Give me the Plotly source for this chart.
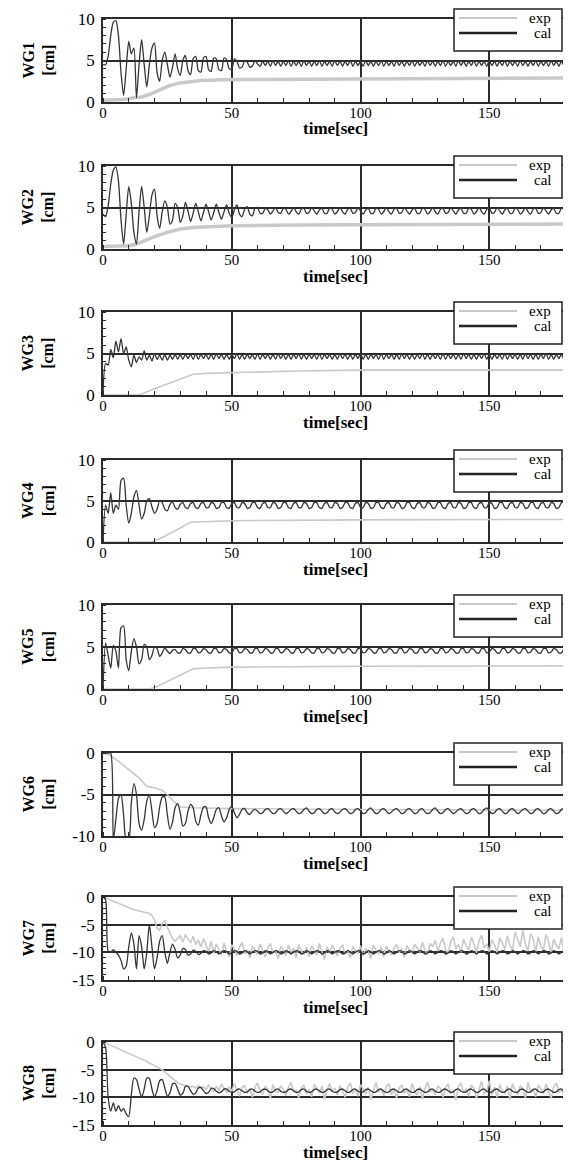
import plotly.graph_objects as go

# ---------------- data ----------------
# Time step of calculated / noisy series: 1 s (index = time in seconds)

WG1_EXP_T = [0, 8, 12, 15, 18, 22, 26, 30, 34, 38, 50, 75, 100, 150, 180]
WG1_EXP = [0.2, 0.3, 0.5, 0.6, 0.9, 1.5, 2.0, 2.3, 2.5, 2.6, 2.7, 2.75, 2.8, 2.85, 2.9]
WG1_CAL = [
    4.5, 4.5, 5.5, 8.0, 9.6, 9.8, 8.0, 3.5, 0.8, 4.0,
    7.3, 5.8, 6.5, 0.5, 4.5, 7.5, 4.5, 1.8, 4.5, 6.5,
    7.1, 3.5, 2.5, 5.0, 6.0, 4.5, 3.0, 4.2, 5.8, 4.0,
    3.2, 5.0, 5.6, 3.8, 3.3, 5.2, 5.5, 3.8, 3.6, 5.3,
    5.5, 3.9, 3.7, 5.3, 5.2, 3.9, 3.8, 5.3, 5.1, 4.0,
    4.0, 5.2, 4.9, 4.1, 4.2, 5.0, 4.8, 4.2, 4.3, 5.0,
    4.6, 4.3, 4.9, 4.4, 4.9, 4.3, 5.0, 4.4, 4.9, 4.3,
    4.9, 4.4, 5.0, 4.3, 4.9, 4.4, 4.9, 4.3, 5.0, 4.4,
    4.9, 4.3, 4.9, 4.4, 5.0, 4.3, 4.9, 4.4, 4.9, 4.3,
    5.0, 4.4, 4.9, 4.3, 4.9, 4.4, 5.0, 4.3, 4.9, 4.4,
    4.9, 4.3, 5.0, 4.4, 4.9, 4.3, 4.9, 4.4, 5.0, 4.3,
    4.9, 4.4, 4.9, 4.3, 5.0, 4.4, 4.9, 4.3, 4.9, 4.4,
    5.0, 4.3, 4.9, 4.4, 4.9, 4.3, 5.0, 4.4, 4.9, 4.3,
    4.9, 4.4, 5.0, 4.3, 4.9, 4.4, 4.9, 4.3, 5.0, 4.4,
    4.9, 4.3, 4.9, 4.4, 5.0, 4.3, 4.9, 4.4, 4.9, 4.3,
    5.0, 4.4, 4.9, 4.3, 4.9, 4.4, 5.0, 4.3, 4.9, 4.4,
    4.9, 4.3, 5.0, 4.4, 4.9, 4.3, 4.9, 4.4, 5.0, 4.3,
    4.9, 4.4, 4.9, 4.3, 5.0, 4.4, 4.9, 4.3, 4.9, 4.4,
    4.8,
]

WG2_EXP_T = [0, 5, 10, 13, 16, 20, 25, 30, 35, 40, 50, 75, 100, 150, 180]
WG2_EXP = [0.3, 0.3, 0.4, 0.6, 1.0, 1.5, 2.0, 2.4, 2.6, 2.7, 2.8, 2.9, 2.9, 3.0, 3.0]
WG2_CAL = [
    4.2, 3.9, 5.2, 7.8, 9.5, 9.9, 8.2, 3.5, 0.6, 4.2,
    7.5, 5.5, 2.0, 0.6, 4.5, 7.5, 5.0, 2.0, 4.0, 6.5,
    7.2, 4.0, 2.5, 4.5, 5.8, 5.0, 3.0, 3.5, 5.5, 5.0,
    3.2, 4.0, 5.6, 4.6, 3.3, 4.3, 5.5, 4.5, 3.4, 4.4,
    5.4, 4.5, 3.5, 4.4, 5.4, 4.4, 3.6, 4.5, 5.3, 4.3,
    3.8, 4.7, 5.3, 4.2, 3.9, 4.8, 5.1, 4.2, 4.0, 4.9,
    5.0, 4.3, 4.3, 4.9, 4.7, 4.2, 4.6, 5.0, 4.4, 4.3,
    4.9, 4.8, 4.2, 4.5, 5.0, 4.5, 4.2, 4.8, 4.9, 4.3,
    4.4, 5.0, 4.6, 4.2, 4.7, 4.9, 4.3, 4.3, 4.9, 4.8,
    4.2, 4.5, 5.0, 4.5, 4.2, 4.8, 4.9, 4.3, 4.4, 5.0,
    4.6, 4.2, 4.7, 4.9, 4.3, 4.3, 4.9, 4.8, 4.2, 4.5,
    5.0, 4.5, 4.2, 4.8, 4.9, 4.3, 4.4, 5.0, 4.6, 4.2,
    4.7, 4.9, 4.3, 4.3, 4.9, 4.8, 4.2, 4.5, 5.0, 4.5,
    4.2, 4.8, 4.9, 4.3, 4.4, 5.0, 4.6, 4.2, 4.7, 4.9,
    4.3, 4.3, 4.9, 4.8, 4.2, 4.5, 5.0, 4.5, 4.2, 4.8,
    4.9, 4.3, 4.4, 5.0, 4.6, 4.2, 4.7, 4.9, 4.3, 4.3,
    4.9, 4.8, 4.2, 4.5, 5.0, 4.5, 4.2, 4.8, 4.9, 4.3,
    4.4, 5.0, 4.6, 4.2, 4.7, 4.9, 4.3, 4.3, 4.9, 4.8,
    4.5,
]

WG3_EXP_T = [0, 14, 18, 25, 30, 35, 40, 50, 75, 100, 150, 180]
WG3_EXP = [0.0, 0.0, 0.5, 1.3, 1.9, 2.5, 2.6, 2.7, 2.9, 3.0, 3.0, 3.0]
WG3_CAL = [
    0.0, 3.8, 3.6, 5.5, 4.5, 6.5, 5.2, 6.8, 5.0, 5.8,
    4.2, 3.4, 4.8, 3.9, 4.6, 4.2, 5.3, 4.2, 4.8, 4.1,
    5.0, 4.3, 4.8, 4.2, 4.9, 4.2, 4.8, 4.3, 4.9, 4.3,
    4.9, 4.3, 4.9, 4.4, 4.9, 4.3, 5.0, 4.3, 4.9, 4.4,
    4.9, 4.3, 4.9, 4.3, 5.0, 4.4, 4.9, 4.3, 4.9, 4.3,
    4.9, 4.4, 5.0, 4.3, 4.9, 4.3, 4.9, 4.4, 4.9, 4.3,
    5.0, 4.3, 4.9, 4.4, 4.9, 4.3, 4.9, 4.3, 5.0, 4.4,
    4.9, 4.3, 4.9, 4.3, 4.9, 4.4, 5.0, 4.3, 4.9, 4.3,
    4.9, 4.4, 4.9, 4.3, 5.0, 4.3, 4.9, 4.4, 4.9, 4.3,
    4.9, 4.3, 5.0, 4.4, 4.9, 4.3, 4.9, 4.3, 4.9, 4.4,
    5.0, 4.3, 4.9, 4.3, 4.9, 4.4, 4.9, 4.3, 5.0, 4.3,
    4.9, 4.4, 4.9, 4.3, 4.9, 4.3, 5.0, 4.4, 4.9, 4.3,
    4.9, 4.3, 4.9, 4.4, 5.0, 4.3, 4.9, 4.3, 4.9, 4.4,
    4.9, 4.3, 5.0, 4.3, 4.9, 4.4, 4.9, 4.3, 4.9, 4.3,
    5.0, 4.4, 4.9, 4.3, 4.9, 4.3, 4.9, 4.4, 5.0, 4.3,
    4.9, 4.3, 4.9, 4.4, 4.9, 4.3, 5.0, 4.3, 4.9, 4.4,
    4.9, 4.3, 4.9, 4.3, 5.0, 4.4, 4.9, 4.3, 4.9, 4.3,
    4.9, 4.4, 5.0, 4.3, 4.9, 4.3, 4.9, 4.4, 4.9, 4.3,
    4.6,
]

WG4_EXP_T = [0, 19, 22, 26, 30, 34, 40, 50, 100, 180]
WG4_EXP = [0.0, 0.0, 0.4, 1.0, 1.7, 2.4, 2.5, 2.6, 2.7, 2.75]
WG4_CAL = [
    0.0, 4.5, 3.5, 6.0, 3.5, 4.5, 4.0, 7.5, 7.8, 4.5,
    2.3, 3.5, 5.5, 6.3, 4.5, 2.8, 3.5, 5.0, 5.3, 4.3,
    3.5, 4.0, 5.0, 4.8, 4.0, 3.8, 4.6, 4.9, 4.2, 4.0,
    4.6, 4.8, 4.2, 4.1, 4.7, 4.8, 4.2, 4.1, 4.7, 4.8,
    4.2, 4.2, 4.8, 4.7, 4.1, 4.2, 4.8, 4.8, 4.2, 4.1,
    4.7, 4.8, 4.2, 4.2, 4.8, 4.7, 4.1, 4.2, 4.8, 4.8,
    4.2, 4.1, 4.7, 4.8, 4.2, 4.2, 4.8, 4.7, 4.1, 4.2,
    4.8, 4.8, 4.2, 4.1, 4.7, 4.8, 4.2, 4.2, 4.8, 4.7,
    4.1, 4.2, 4.8, 4.8, 4.2, 4.1, 4.7, 4.8, 4.2, 4.2,
    4.8, 4.7, 4.1, 4.2, 4.8, 4.8, 4.2, 4.1, 4.7, 4.8,
    4.2, 4.2, 4.8, 4.7, 4.1, 4.2, 4.8, 4.8, 4.2, 4.1,
    4.7, 4.8, 4.2, 4.2, 4.8, 4.7, 4.1, 4.2, 4.8, 4.8,
    4.2, 4.1, 4.7, 4.8, 4.2, 4.2, 4.8, 4.7, 4.1, 4.2,
    4.8, 4.8, 4.2, 4.1, 4.7, 4.8, 4.2, 4.2, 4.8, 4.7,
    4.1, 4.2, 4.8, 4.8, 4.2, 4.1, 4.7, 4.8, 4.2, 4.2,
    4.8, 4.7, 4.1, 4.2, 4.8, 4.8, 4.2, 4.1, 4.7, 4.8,
    4.2, 4.2, 4.8, 4.7, 4.1, 4.2, 4.8, 4.8, 4.2, 4.1,
    4.7, 4.8, 4.2, 4.2, 4.8, 4.7, 4.1, 4.2, 4.8, 4.8,
    4.5,
]

WG5_EXP_T = [0, 18, 21, 25, 30, 35, 40, 50, 100, 180]
WG5_EXP = [0.0, 0.0, 0.3, 0.9, 1.7, 2.4, 2.5, 2.6, 2.7, 2.75]
WG5_CAL = [
    0.0, 5.5, 4.0, 2.5, 5.2, 4.5, 2.5, 7.3, 7.5, 3.5,
    2.2, 4.5, 6.0, 5.0, 3.0, 3.5, 5.3, 5.0, 3.5, 4.0,
    5.0, 4.8, 3.9, 4.3, 4.9, 4.5, 4.2, 4.6, 4.7, 4.3,
    4.3, 4.8, 4.7, 4.3, 4.3, 4.8, 4.8, 4.3, 4.4, 4.8,
    4.7, 4.3, 4.3, 4.8, 4.8, 4.3, 4.4, 4.8, 4.7, 4.3,
    4.3, 4.8, 4.8, 4.3, 4.4, 4.8, 4.7, 4.3, 4.3, 4.8,
    4.8, 4.3, 4.4, 4.8, 4.7, 4.3, 4.3, 4.8, 4.8, 4.3,
    4.4, 4.8, 4.7, 4.3, 4.3, 4.8, 4.8, 4.3, 4.4, 4.8,
    4.7, 4.3, 4.3, 4.8, 4.8, 4.3, 4.4, 4.8, 4.7, 4.3,
    4.3, 4.8, 4.8, 4.3, 4.4, 4.8, 4.7, 4.3, 4.3, 4.8,
    4.8, 4.3, 4.4, 4.8, 4.7, 4.3, 4.3, 4.8, 4.8, 4.3,
    4.4, 4.8, 4.7, 4.3, 4.3, 4.8, 4.8, 4.3, 4.4, 4.8,
    4.7, 4.3, 4.3, 4.8, 4.8, 4.3, 4.4, 4.8, 4.7, 4.3,
    4.3, 4.8, 4.8, 4.3, 4.4, 4.8, 4.7, 4.3, 4.3, 4.8,
    4.8, 4.3, 4.4, 4.8, 4.7, 4.3, 4.3, 4.8, 4.8, 4.3,
    4.4, 4.8, 4.7, 4.3, 4.3, 4.8, 4.8, 4.3, 4.4, 4.8,
    4.7, 4.3, 4.3, 4.8, 4.8, 4.3, 4.4, 4.8, 4.7, 4.3,
    4.3, 4.8, 4.8, 4.3, 4.4, 4.8, 4.7, 4.3, 4.3, 4.8,
    4.6,
]

WG6_EXP_T = [0, 3, 6, 10, 14, 17, 20, 23, 25, 28, 30, 35, 50, 100, 150, 180]
WG6_EXP = [0.0, -0.3, -1.0, -2.0, -3.0, -4.0, -4.2, -4.5, -5.0, -6.0, -6.5, -6.6, -6.7, -6.8, -6.9, -6.9]
WG6_CAL = [
    0.0, 0.0, 0.0, 0.0, -10.5, -8.0, -5.5, -5.0, -7.5, -10.5,
    -10.5, -6.0, -3.7, -5.0, -8.5, -9.3, -8.0, -5.8, -5.1, -7.0,
    -9.0, -8.5, -6.5, -5.3, -5.3, -7.5, -9.2, -8.3, -6.6, -6.1,
    -7.2, -8.8, -8.5, -7.0, -6.2, -6.6, -8.2, -8.7, -7.5, -6.5,
    -6.5, -7.8, -8.5, -7.8, -6.8, -6.6, -7.6, -8.3, -7.8, -6.8,
    -6.4, -7.2, -7.8, -7.4, -6.8, -6.7, -7.2, -7.4, -7.0, -6.8,
    -7.0, -7.3, -7.2, -6.8, -6.7, -7.0, -7.3, -7.2, -6.8, -6.7,
    -7.0, -7.3, -7.1, -6.8, -6.7, -7.0, -7.3, -7.2, -6.8, -6.6,
    -7.0, -7.3, -7.2, -6.8, -6.7, -7.0, -7.3, -7.2, -6.8, -6.7,
    -7.1, -7.3, -7.1, -6.8, -6.7, -7.0, -7.3, -7.2, -6.8, -6.7,
    -7.0, -7.3, -7.2, -6.8, -6.6, -7.0, -7.3, -7.2, -6.8, -6.7,
    -7.0, -7.3, -7.1, -6.8, -6.7, -7.0, -7.3, -7.2, -6.8, -6.7,
    -7.0, -7.3, -7.2, -6.8, -6.7, -7.1, -7.3, -7.2, -6.8, -6.6,
    -7.0, -7.3, -7.2, -6.8, -6.7, -7.0, -7.3, -7.1, -6.8, -6.7,
    -7.0, -7.3, -7.2, -6.8, -6.7, -7.0, -7.3, -7.2, -6.8, -6.6,
    -7.0, -7.3, -7.2, -6.8, -6.7, -7.0, -7.3, -7.2, -6.8, -6.7,
    -7.0, -7.3, -7.1, -6.8, -6.7, -7.0, -7.3, -7.2, -6.8, -6.7,
    -7.0, -7.3, -7.2, -6.8, -6.7, -7.0, -7.3, -7.2, -6.8, -6.7,
    -7.0,
]

WG7_EXP = [
    0.0, -0.2, -0.4, -0.6, -0.8, -1.0, -1.2, -1.4, -1.6, -1.8,
    -2.0, -2.1, -2.3, -2.4, -2.5, -2.6, -2.7, -2.8, -3.0, -3.3,
    -4.2, -5.6, -6.0, -4.8, -4.2, -5.5, -6.6, -7.5, -8.0, -7.4,
    -7.0, -8.2, -6.8, -7.6, -8.3, -7.1, -8.6, -7.8, -9.0, -7.5,
    -8.8, -9.8, -8.0, -10.2, -8.5, -9.6, -10.5, -8.3, -9.9, -10.8,
    -8.6, -9.4, -10.6, -9.0, -8.2, -10.3, -9.5, -11.0, -8.8, -9.7,
    -10.4, -8.5, -9.9, -10.9, -9.2, -8.4, -10.2, -9.6, -11.2, -8.9,
    -9.5, -10.6, -8.7, -10.0, -9.3, -11.0, -8.6, -9.8, -10.3, -9.1,
    -10.8, -8.8, -9.6, -10.5, -8.4, -9.9, -11.3, -9.0, -10.1, -8.7,
    -9.7, -10.7, -9.3, -8.6, -10.4, -9.5, -11.0, -8.9, -9.8, -10.2,
    -8.8, -10.6, -9.4, -9.9, -11.1, -8.7, -9.6, -10.3, -9.0, -10.8,
    -8.9, -9.7, -10.5, -9.2, -8.6, -10.1, -9.4, -10.9, -8.8, -9.6,
    -10.2, -8.5, -9.3, -10.0, -8.2, -9.6, -10.4, -8.4, -9.0, -7.8,
    -9.8, -8.3, -7.5, -9.5, -10.2, -8.0, -7.2, -9.3, -8.6, -10.0,
    -7.6, -8.8, -9.6, -7.3, -8.4, -10.1, -7.9, -6.9, -9.2, -8.5,
    -9.9, -7.7, -8.6, -10.0, -7.4, -8.2, -9.5, -7.0, -8.8, -9.7,
    -6.3, -7.8, -9.0, -6.0, -8.5, -9.8, -6.6, -7.5, -10.0, -7.2,
    -8.9, -9.6, -6.8, -8.0, -10.2, -7.6, -8.7, -9.4, -7.3, -10.1,
    -9.0,
]
WG7_CAL = [
    0.0, -0.5, -9.8, -10.0, -9.5, -10.0, -10.5, -11.5, -13.0, -12.5,
    -9.0, -6.5, -8.5, -13.0, -7.0, -9.0, -13.0, -10.0, -5.0, -9.0,
    -13.0, -11.0, -8.0, -7.0, -10.0, -12.0, -10.0, -8.5, -9.5, -11.0,
    -10.5, -9.3, -9.5, -10.5, -10.3, -9.6, -9.8, -10.4, -10.2, -9.7,
    -9.8, -10.3, -10.1, -9.7, -9.9, -10.3, -10.0, -9.7, -9.9, -10.3,
    -10.1, -9.7, -9.8, -10.3, -10.1, -9.7, -9.9, -10.3, -10.0, -9.7,
    -9.8, -10.3, -10.1, -9.7, -9.9, -10.3, -10.0, -9.7, -9.8, -10.3,
    -10.1, -9.7, -9.9, -10.3, -10.0, -9.7, -9.8, -10.3, -10.1, -9.7,
    -9.9, -10.3, -10.0, -9.7, -9.8, -10.3, -10.1, -9.7, -9.9, -10.3,
    -10.0, -9.7, -9.8, -10.3, -10.1, -9.7, -9.9, -10.3, -10.0, -9.7,
    -9.8, -10.3, -10.1, -9.7, -9.9, -10.3, -10.0, -9.7, -9.8, -10.3,
    -10.1, -9.7, -9.9, -10.3, -10.0, -9.7, -9.8, -10.3, -10.1, -9.7,
    -9.9, -10.3, -10.0, -9.7, -9.8, -10.3, -10.1, -9.7, -9.9, -10.3,
    -10.0, -9.7, -9.8, -10.3, -10.1, -9.7, -9.9, -10.3, -10.0, -9.7,
    -9.8, -10.3, -10.1, -9.7, -9.9, -10.3, -10.0, -9.7, -9.8, -10.3,
    -10.1, -9.7, -9.9, -10.3, -10.0, -9.7, -9.8, -10.3, -10.1, -9.7,
    -9.9, -10.3, -10.0, -9.7, -9.8, -10.3, -10.1, -9.7, -9.9, -10.3,
    -10.0, -9.7, -9.8, -10.3, -10.1, -9.7, -9.9, -10.3, -10.0, -9.7,
    -10.0,
]

WG8_EXP = [
    0.0, -0.2, -0.4, -0.6, -0.8, -1.0, -1.2, -1.4, -1.6, -1.8,
    -2.0, -2.2, -2.4, -2.6, -2.8, -3.0, -3.2, -3.5, -3.8, -4.0,
    -4.3, -4.5, -4.8, -5.0, -5.4, -5.8, -6.2, -6.6, -7.0, -7.4,
    -7.6, -7.8, -7.9, -8.0, -8.1, -8.0, -8.3, -7.9, -8.4, -8.1,
    -8.6, -7.8, -8.3, -9.0, -8.0, -8.7, -7.6, -8.5, -9.2, -8.1,
    -8.9, -7.5, -8.6, -9.8, -8.2, -7.9, -9.3, -8.4, -10.0, -8.1,
    -7.4, -8.8, -9.5, -8.0, -8.6, -10.2, -7.7, -8.9, -9.1, -7.9,
    -8.5, -9.7, -8.2, -7.3, -9.0, -8.7, -10.1, -8.3, -7.8, -9.4,
    -8.6, -9.9, -7.6, -8.4, -9.2, -8.0, -10.3, -8.7, -7.5, -9.0,
    -8.3, -9.6, -7.9, -8.8, -10.0, -8.1, -7.4, -9.3, -8.6, -9.8,
    -7.7, -8.5, -9.4, -8.2, -10.4, -8.8, -7.3, -9.1, -8.4, -9.7,
    -8.0, -7.6, -9.5, -8.6, -10.1, -8.3, -7.8, -9.2, -8.7, -9.9,
    -7.5, -8.9, -9.6, -8.1, -10.3, -8.5, -7.2, -9.0, -8.8, -9.5,
    -7.9, -8.4, -10.0, -8.2, -7.6, -9.3, -8.7, -10.5, -8.0, -7.4,
    -9.1, -8.6, -9.8, -7.8, -8.3, -10.2, -8.5, -7.1, -9.4, -8.9,
    -7.0, -9.6, -8.2, -10.0, -7.7, -8.8, -9.2, -8.0, -10.4, -7.5,
    -8.7, -9.5, -7.9, -8.4, -10.1, -7.3, -9.0, -8.6, -9.9, -7.8,
    -8.5, -9.3, -7.6, -8.9, -10.2, -8.1, -7.4, -9.1, -8.7, -9.7,
    -8.3,
]
WG8_CAL = [
    0.0, -1.0, -10.0, -12.5, -11.0, -12.5, -11.5, -12.5, -12.0, -13.0,
    -13.5, -9.5, -6.5, -6.8, -8.5, -10.0, -8.5, -6.5, -6.6, -8.5,
    -10.0, -8.8, -7.0, -6.8, -8.3, -9.8, -9.2, -7.6, -7.5, -8.5,
    -9.6, -9.3, -8.0, -8.0, -8.8, -9.4, -9.2, -8.3, -8.2, -8.8,
    -9.3, -9.1, -8.4, -8.4, -8.9, -9.2, -9.0, -8.5, -8.5, -8.9,
    -9.1, -9.0, -8.6, -8.5, -8.8, -9.1, -9.0, -8.6, -8.5, -8.9,
    -9.1, -9.0, -8.6, -8.5, -8.8, -9.1, -9.0, -8.6, -8.5, -8.9,
    -9.1, -9.0, -8.6, -8.5, -8.8, -9.1, -9.0, -8.6, -8.5, -8.9,
    -9.1, -9.0, -8.6, -8.5, -8.8, -9.1, -9.0, -8.6, -8.5, -8.9,
    -9.1, -9.0, -8.6, -8.5, -8.8, -9.1, -9.0, -8.6, -8.5, -8.9,
    -9.1, -9.0, -8.6, -8.5, -8.8, -9.1, -9.0, -8.6, -8.5, -8.9,
    -9.1, -9.0, -8.6, -8.5, -8.8, -9.1, -9.0, -8.6, -8.5, -8.9,
    -9.1, -9.0, -8.6, -8.5, -8.8, -9.1, -9.0, -8.6, -8.5, -8.9,
    -9.1, -9.0, -8.6, -8.5, -8.8, -9.1, -9.0, -8.6, -8.5, -8.9,
    -9.1, -9.0, -8.6, -8.5, -8.8, -9.1, -9.0, -8.6, -8.5, -8.9,
    -9.1, -9.0, -8.6, -8.5, -8.8, -9.1, -9.0, -8.6, -8.5, -8.9,
    -9.1, -9.0, -8.6, -8.5, -8.8, -9.1, -9.0, -8.6, -8.5, -8.9,
    -9.1, -9.0, -8.6, -8.5, -8.8, -9.1, -9.0, -8.6, -8.5, -8.9,
    -8.8,
]

PANEL_NAMES = ["WG1", "WG2", "WG3", "WG4", "WG5", "WG6", "WG7", "WG8"]
SERIES_NAMES = ["exp", "cal"]
Y_RANGES = [(0, 10)] * 5 + [(-10, 0), (-15, 0), (-15, 0)]
Y_TICKS = [[0, 5, 10]] * 5 + [[-10, -5, 0], [-15, -10, -5, 0], [-15, -10, -5, 0]]
X_TICKS = [0, 50, 100, 150]
X_TITLE = "time[sec]"
Y_UNIT = "[cm]"

EXP_T = [WG1_EXP_T, WG2_EXP_T, WG3_EXP_T, WG4_EXP_T, WG5_EXP_T, WG6_EXP_T, None, None]
EXP_V = [WG1_EXP, WG2_EXP, WG3_EXP, WG4_EXP, WG5_EXP, WG6_EXP, WG7_EXP, WG8_EXP]
CAL_V = [WG1_CAL, WG2_CAL, WG3_CAL, WG4_CAL, WG5_CAL, WG6_CAL, WG7_CAL, WG8_CAL]

# ---------------- layout geometry (reference pixels) ----------------
VIEW_W, VIEW_H = 571, 1161
OFF = 8                      # default page (body) margin
W, H = VIEW_W - OFF, VIEW_H - OFF
PLOT_LEFT, PLOT_RIGHT = 103, 571
X_PX_PER_SEC = (566.6 - 103) / 180.0
X_MAX = (PLOT_RIGHT - PLOT_LEFT) / X_PX_PER_SEC
PANEL_TOP = [19, 166, 312, 460, 605, 753, 897, 1042]
PANEL_BOT = [102, 249, 395, 542, 689, 836, 980, 1125]
LEG_X0, LEG_X1 = 454, 562           # legend box left/right
LEG_DY0, LEG_DY1 = -10, 32          # legend box top/bottom relative to panel top
LEG_ROW_DY = [-1, 14]               # row centres relative to panel top
LEG_LINE_X0, LEG_LINE_X1 = 459, 517
LEG_TEXT_X = 553
X_TITLE_DY = 27

FONT = "Liberation Serif"
EXP_COLOR = "#c9c9c9"
CAL_COLOR = "#353535"
AX_COLOR = "#2b2b2b"
EXP_WIDTH = [3.5, 3.5, 1.6, 1.6, 1.6, 1.6, 1.6, 1.6]
LEG_LINE_STYLE = [dict(color=EXP_COLOR, width=2), dict(color="#222222", width=2.5)]


def px_x(p):
    return (p - OFF) / W


def px_y(p):
    return 1 - (p - OFF) / H


fig = go.Figure()
annotations = []
shapes = []
layout = {}
for i, name in enumerate(PANEL_NAMES):
    k = "" if i == 0 else str(i + 1)
    xt = EXP_T[i] if EXP_T[i] is not None else list(range(len(EXP_V[i])))
    fig.add_trace(go.Scatter(
        x=xt, y=EXP_V[i], mode="lines", name=f"{name} exp",
        line=dict(color=EXP_COLOR, width=EXP_WIDTH[i]),
        xaxis="x" + k, yaxis="y" + k, showlegend=False))
    fig.add_trace(go.Scatter(
        x=list(range(len(CAL_V[i]))), y=CAL_V[i], mode="lines", name=f"{name} cal",
        line=dict(color=CAL_COLOR, width=1.3, shape="spline", smoothing=0.7),
        xaxis="x" + k, yaxis="y" + k, showlegend=False))

    top, bot = PANEL_TOP[i], PANEL_BOT[i]
    layout["xaxis" + k] = dict(
        domain=[px_x(PLOT_LEFT), min(1.0, px_x(PLOT_RIGHT))], range=[0, X_MAX],
        anchor="y" + k, automargin=False,
        showline=True, mirror=True, linecolor=AX_COLOR, linewidth=1.5,
        showgrid=True, gridcolor=AX_COLOR, gridwidth=1.5, zeroline=False,
        tickmode="array", tickvals=X_TICKS, ticktext=[str(v) for v in X_TICKS],
        ticks="", ticklabelstandoff=-4,
        tickfont=dict(family=FONT, size=15, color="black"),
        minor=dict(tickmode="linear", tick0=0, dtick=10, ticks="inside",
                   ticklen=4, tickcolor=AX_COLOR, showgrid=False),
    )
    yr = Y_RANGES[i]
    layout["yaxis" + k] = dict(
        domain=[px_y(bot), px_y(top)], range=list(yr), anchor="x" + k,
        automargin=False,
        showline=True, mirror=False, linecolor=AX_COLOR, linewidth=1.5,
        showgrid=True, gridcolor=AX_COLOR, gridwidth=1.5, zeroline=False,
        tickmode="array", tickvals=Y_TICKS[i], ticktext=[str(v) for v in Y_TICKS[i]],
        ticks="", ticklabelstandoff=3,
        tickfont=dict(family=FONT, size=17, color="black"),
        minor=dict(tickmode="linear", tick0=0, dtick=1, ticks="inside",
                   ticklen=3, tickcolor=AX_COLOR, showgrid=False),
    )

    # legend box (one per panel)
    shapes.append(dict(
        type="rect", xref="paper", yref="paper",
        x0=px_x(LEG_X0), x1=px_x(LEG_X1),
        y0=px_y(top + LEG_DY1), y1=px_y(top + LEG_DY0),
        line=dict(color="#222222", width=1.5), fillcolor="white", layer="above"))
    for r, sname in enumerate(SERIES_NAMES):
        yrow = top + LEG_ROW_DY[r]
        shapes.append(dict(
            type="line", xref="paper", yref="paper",
            x0=px_x(LEG_LINE_X0), x1=px_x(LEG_LINE_X1),
            y0=px_y(yrow), y1=px_y(yrow),
            line=LEG_LINE_STYLE[r], layer="above"))
        annotations.append(dict(
            xref="paper", yref="paper", x=px_x(LEG_TEXT_X), y=px_y(yrow),
            text=sname, showarrow=False, xanchor="right", yanchor="middle",
            font=dict(family=FONT, size=15, color="black")))

    annotations.append(dict(
        xref="paper", yref="paper", x=px_x(38), y=px_y((top + bot) / 2),
        text=f"{name}<br>{Y_UNIT}", textangle=-90, showarrow=False,
        font=dict(family=FONT, size=16, color="black", weight="bold"),
        xanchor="center", yanchor="middle"))
    annotations.append(dict(
        xref="paper", yref="paper", x=px_x(335), y=px_y(bot + X_TITLE_DY),
        text=X_TITLE, showarrow=False,
        font=dict(family=FONT, size=17, color="black", weight="bold"),
        xanchor="center", yanchor="middle"))

fig.update_layout(
    width=W, height=H, margin=dict(l=0, r=0, t=0, b=0, autoexpand=False),
    paper_bgcolor="white", plot_bgcolor="white", showlegend=False,
    annotations=annotations, shapes=shapes, **layout)

fig.write_html("out.html")
